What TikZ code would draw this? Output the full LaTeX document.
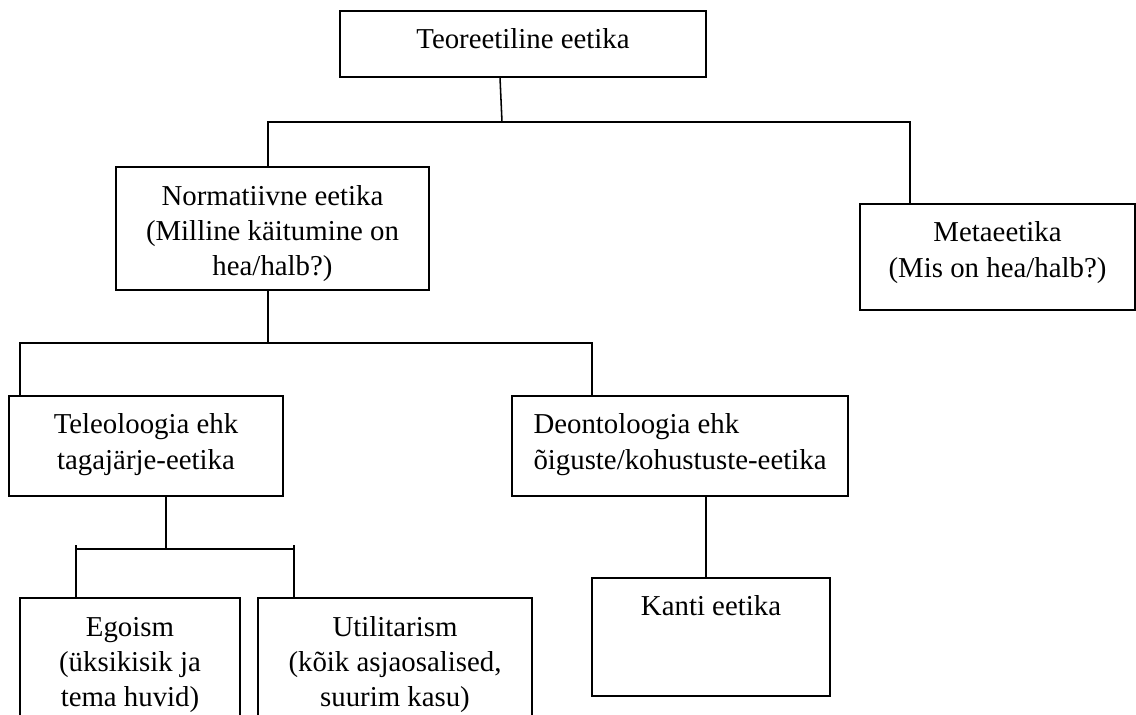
\documentclass[tikz,border=0pt]{standalone}
\usepackage{fontspec}
\setmainfont{Liberation Serif}
\usepackage{tikz}
\usetikzlibrary{positioning}
\usetikzlibrary{calc}
\tikzstyle{block} = [draw, rectangle, line width = 1.1pt, inner sep = 0pt, anchor = north, align = center, font = \fontsize{20.5pt}{25pt}\selectfont]
\tikzstyle{line} = [line width = 1.1pt]
\begin{document}
\begin{tikzpicture}[x = 0.025cm, y = -0.025cm]
	
		\useasboundingbox (0, 0) rectangle (1136, 715);
		
		% Top level
		\node[block, minimum width = 9.15cm, text height = 0.95cm, text depth = 0.7cm] (teo) at (523, 10) {Teoreetiline eetika};
		
		% Normative and meta
		\node[block, minimum width = 7.825cm, text height = 2.714cm, text depth = 0.361cm] (norm) at (272.5, 166) {Normatiivne eetika\\(Milline käitumine on\\hea/halb?)};
		\node[block, minimum width = 6.875cm, text height = 1.832cm, text depth = 0.818cm] (meta) at (997.5, 203) {Metaeetika\\(Mis on hea/halb?)};
		
		% Teleology and deontology
		\node[block, minimum width = 6.85cm, text height = 1.832cm, text depth = 0.668cm] (tele) at (146, 395) {Teleoloogia ehk\\tagajärje-eetika};
		\node[block, align = left, minimum width = 8.4cm, text height = 1.832cm, text depth = 0.668cm] (deon) at (680, 395) {Deontoloogia ehk\\õiguste/kohustuste-eetika};
		
		% Bottom row
		\node[block, minimum width = 5.5cm, text height = 2.714cm, text depth = 0.536cm] (ego) at (130, 597) {Egoism\\(üksikisik ja\\tema huvid)};
		\node[block, minimum width = 6.85cm, text height = 2.714cm, text depth = 0.536cm] (util) at (395, 597) {Utilitarism\\(kõik asjaosalised,\\suurim kasu)};
		\node[block, minimum width = 5.95cm, text height = 0.95cm, text depth = 2.0cm] (kanti) at (711, 577) {Kanti eetika};
		
		% Junctions
		\coordinate (bar1l) at (268, 122);
		\coordinate (bar1m) at (502, 122);
		\coordinate (bar1r) at (910, 122);
		\coordinate (bar2l) at (20, 343);
		\coordinate (bar2m) at (268, 343);
		\coordinate (bar2r) at (592, 343);
		\coordinate (bar3l) at (76, 549);
		\coordinate (bar3m) at (166, 549);
		\coordinate (bar3r) at (294, 549);
		\coordinate (kj) at (706, 536);
		
		% Connect all nodes defined above
		\draw[line] ($(teo.south) + (-23, 0)$) -- (bar1m);
		\draw[line] (norm.north -| bar1l) -- (bar1l) -- (bar1r) -- (meta.north -| bar1r);
		\draw[line] (norm.south -| bar2m) -- (bar2m);
		\draw[line] (tele.north -| bar2l) -- (bar2l) -- (bar2r) -- (deon.north -| bar2r);
		\draw[line] (tele.south -| bar3m) -- (bar3m);
		\draw[line] (bar3l) -- (bar3r);
		\draw[line] ($(bar3l) + (0, -4)$) -- (ego.north -| bar3l);
		\draw[line] ($(bar3r) + (0, -4)$) -- (util.north -| bar3r);
		\draw[line] (deon.south -| kj) -- (kanti.north -| kj);
	
	\end{tikzpicture}
\end{document}
